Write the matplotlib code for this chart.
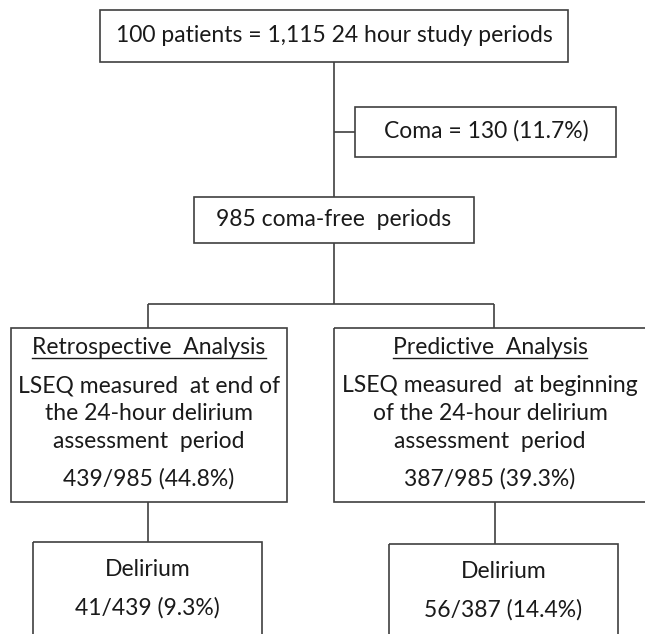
import matplotlib.pyplot as plt
from matplotlib.patches import Rectangle

# counts
total_patients = 100
total_periods = "1,115"
coma = [130, "11.7%"]
coma_free = 985
analyses = ["Retrospective  Analysis", "Predictive  Analysis"]
lseq_lines = [
    ["LSEQ measured  at end of", "the 24-hour delirium", "assessment  period"],
    ["LSEQ measured  at beginning", "of the 24-hour delirium", "assessment  period"],
]
lseq_n = [439, 387]
lseq_pct = ["44.8%", "39.3%"]
delirium_n = [41, 56]
delirium_pct = ["9.3%", "14.4%"]

plt.rcParams['font.family'] = ['Lato', 'DejaVu Sans']
LC = '#404040'
TC = '#1a1a1a'
FS = 16.5

fig = plt.figure(figsize=(6.45, 6.34), dpi=100)
ax = fig.add_axes([0, 0, 1, 1])
ax.set_xlim(0, 645)
ax.set_ylim(634, 0)
ax.axis('off')


def box(x0, y0, x1, y1):
    ax.add_patch(Rectangle((x0, y0), x1 - x0, y1 - y0, fill=False,
                           edgecolor=LC, linewidth=1.2, clip_on=True))


def line(xs, ys):
    ax.plot(xs, ys, color=LC, linewidth=1.2, solid_capstyle='butt')


def txt(x, y, s):
    return ax.text(x, y, s, ha='center', va='center', fontsize=FS, color=TC)


# top box
box(100, 10, 568, 62)
txt(334, 35, f"{total_patients} patients = {total_periods} 24 hour study periods")

# trunk + coma branch
line([334, 334], [62, 197])
line([334, 355], [132, 132])
box(355, 107, 616, 157)
txt(486, 131, f"Coma = {coma[0]} ({coma[1]})")

# coma-free box
box(194, 197, 474, 243)
txt(334, 219, f"{coma_free} coma-free  periods")

# split
line([334, 334], [243, 304])
line([148, 494], [304, 304])
line([148, 148], [304, 328])
line([494, 494], [304, 328])

# analysis boxes
boxes = [(11, 287), (334, 660)]
centers = [149, 490]
heads = []
for i in range(2):
    x0, x1 = boxes[i]
    box(x0, 328, x1, 502)
    cx = centers[i]
    heads.append(txt(cx, 348, analyses[i]))
    for j, s in enumerate(lseq_lines[i]):
        txt(cx, [386, 413, 441][j], s)
    txt(cx, 479, f"{lseq_n[i]}/{coma_free} ({lseq_pct[i]})")

# delirium boxes
dl = [(33, 262, 542, 148), (389, 618, 544, 495)]
for i, (x0, x1, y0, lx) in enumerate(dl):
    line([lx, lx], [502, y0])
    box(x0, y0, x1, 660)
    cx = (x0 + x1) / 2
    txt(cx, y0 + 28, "Delirium")
    txt(cx, y0 + 66, f"{delirium_n[i]}/{lseq_n[i]} ({delirium_pct[i]})")

# underline the analysis headings
fig.canvas.draw()
inv = ax.transData.inverted()
for t in heads:
    bb = t.get_window_extent()
    (ax0, ay0), (ax1, ay1) = inv.transform([(bb.x0, bb.y0), (bb.x1, bb.y1)])
    ax.plot([ax0, ax1], [ay0 - 1, ay0 - 1], color=TC, linewidth=1.0)

fig.savefig('out.png', dpi=100)
